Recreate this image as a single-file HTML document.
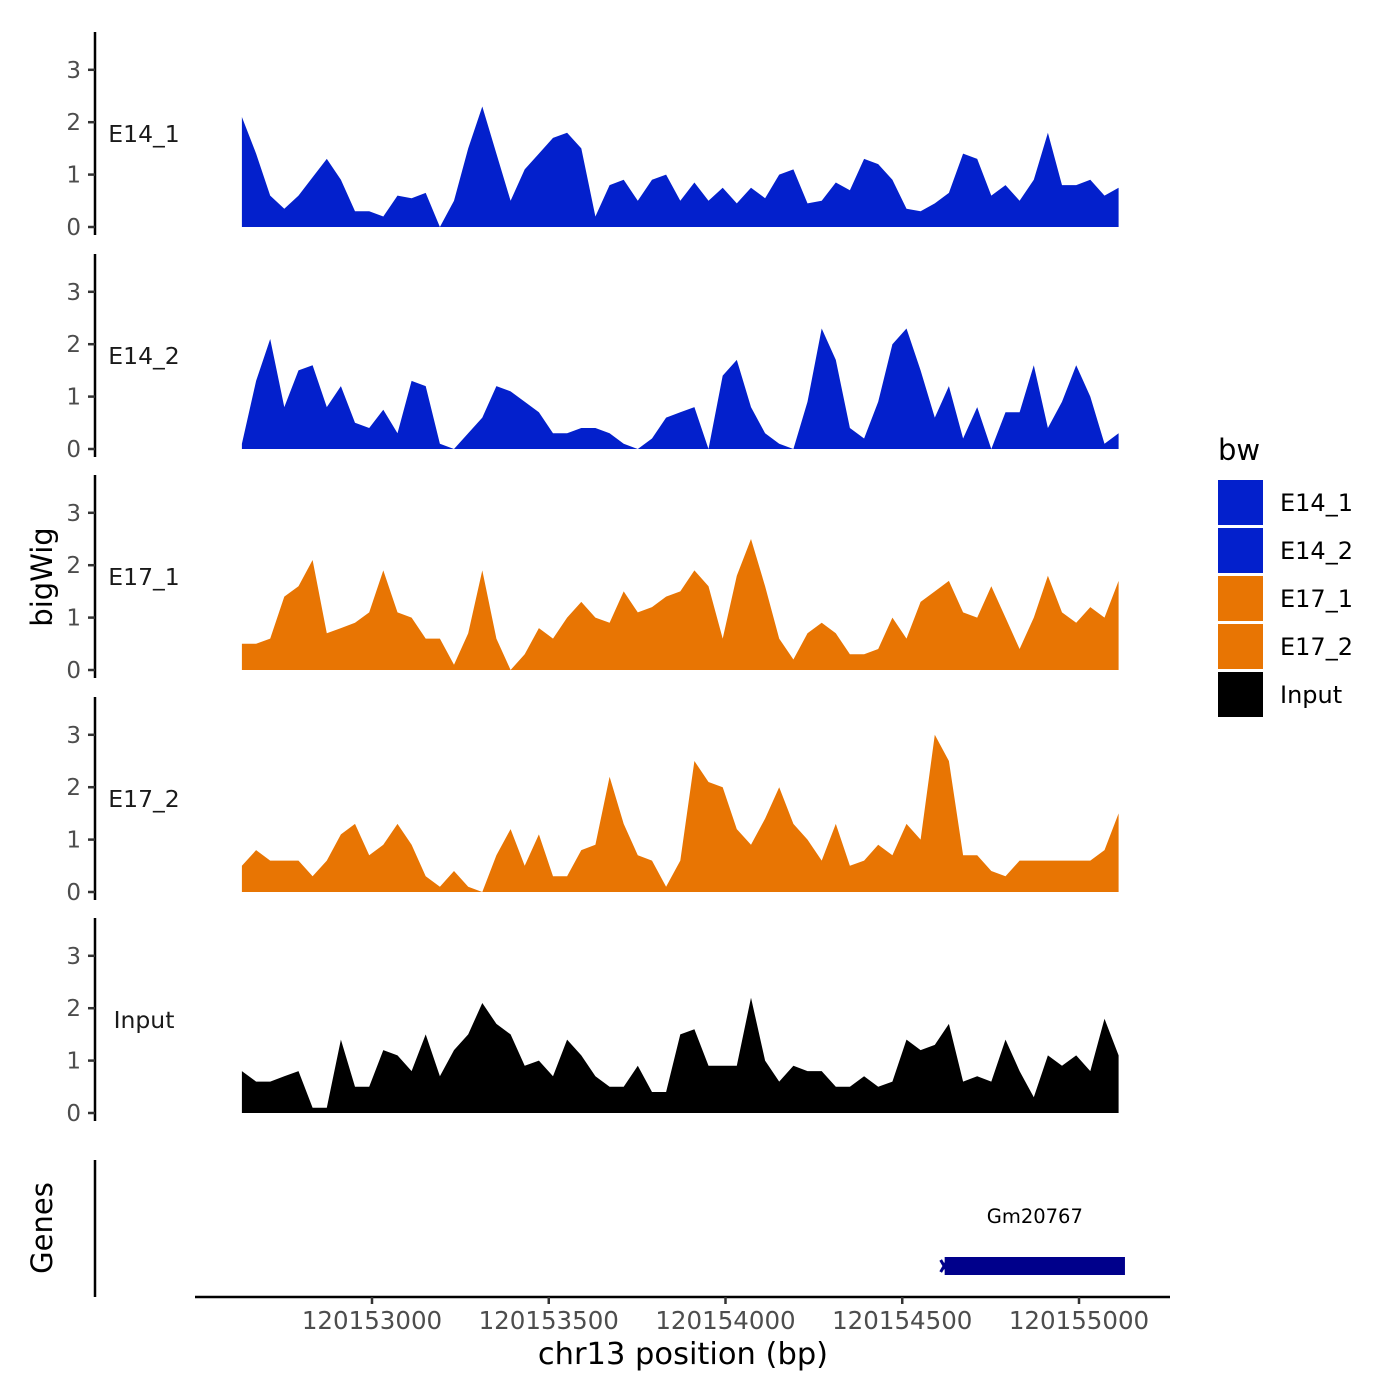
<!DOCTYPE html>
<html><head><meta charset="utf-8"><style>
html,body{margin:0;padding:0;background:#fff;}
svg{display:block;font-family:"DejaVu Sans","Liberation Sans",sans-serif;}
</style></head><body>
<svg id="chart" width="1400" height="1400" viewBox="0 0 1400 1400"></svg>
<script>
const start = 120152632;
const step = 40;
const trackNames = ["E14_1","E14_2","E17_1","E17_2","Input"];
const trackColors = ["#0320cc","#0320cc","#e87503","#e87503","#000000"];
const e14_1 = [2.1,1.4,0.6,0.35,0.6,0.95,1.3,0.9,0.3,0.3,0.2,0.6,0.55,0.65,0.0,0.5,1.5,2.3,1.4,0.5,1.1,1.4,1.7,1.8,1.5,0.2,0.8,0.9,0.5,0.9,1.0,0.5,0.85,0.5,0.75,0.45,0.75,0.55,1.0,1.1,0.45,0.5,0.85,0.7,1.3,1.2,0.9,0.35,0.3,0.45,0.65,1.4,1.3,0.6,0.8,0.5,0.9,1.8,0.8,0.8,0.9,0.6,0.75];
const e14_2 = [0.1,1.3,2.1,0.8,1.5,1.6,0.8,1.2,0.5,0.4,0.75,0.3,1.3,1.2,0.1,0.0,0.3,0.6,1.2,1.1,0.9,0.7,0.3,0.3,0.4,0.4,0.3,0.1,0.0,0.2,0.6,0.7,0.8,0.0,1.4,1.7,0.8,0.3,0.1,0.0,0.9,2.3,1.7,0.4,0.2,0.9,2.0,2.3,1.5,0.6,1.2,0.2,0.8,0.0,0.7,0.7,1.6,0.4,0.9,1.6,1.0,0.1,0.3];
const e17_1 = [0.5,0.5,0.6,1.4,1.6,2.1,0.7,0.8,0.9,1.1,1.9,1.1,1.0,0.6,0.6,0.1,0.7,1.9,0.6,0.0,0.3,0.8,0.6,1.0,1.3,1.0,0.9,1.5,1.1,1.2,1.4,1.5,1.9,1.6,0.6,1.8,2.5,1.6,0.6,0.2,0.7,0.9,0.7,0.3,0.3,0.4,1.0,0.6,1.3,1.5,1.7,1.1,1.0,1.6,1.0,0.4,1.0,1.8,1.1,0.9,1.2,1.0,1.7];
const e17_2 = [0.5,0.8,0.6,0.6,0.6,0.3,0.6,1.1,1.3,0.7,0.9,1.3,0.9,0.3,0.1,0.4,0.1,0.0,0.7,1.2,0.5,1.1,0.3,0.3,0.8,0.9,2.2,1.3,0.7,0.6,0.1,0.6,2.5,2.1,2.0,1.2,0.9,1.4,2.0,1.3,1.0,0.6,1.3,0.5,0.6,0.9,0.7,1.3,1.0,3.0,2.5,0.7,0.7,0.4,0.3,0.6,0.6,0.6,0.6,0.6,0.6,0.8,1.5];
const input = [0.8,0.6,0.6,0.7,0.8,0.1,0.1,1.4,0.5,0.5,1.2,1.1,0.8,1.5,0.7,1.2,1.5,2.1,1.7,1.5,0.9,1.0,0.7,1.4,1.1,0.7,0.5,0.5,0.9,0.4,0.4,1.5,1.6,0.9,0.9,0.9,2.2,1.0,0.6,0.9,0.8,0.8,0.5,0.5,0.7,0.5,0.6,1.4,1.2,1.3,1.7,0.6,0.7,0.6,1.4,0.8,0.3,1.1,0.9,1.1,0.8,1.8,1.1];
const seriesList = [e14_1,e14_2,e17_1,e17_2,input];
const yTicks = [0,1,2,3];
const xTicks = [120153000,120153500,120154000,120154500,120155000];
const xTickLabels = ["120153000","120153500","120154000","120154500","120155000"];
const geneName = "Gm20767";
const geneStart = 120154620;
const geneEnd = 120155130;

const NS="http://www.w3.org/2000/svg";
const svg=document.getElementById('chart');
function mk(tag,attrs,parent){const e=document.createElementNS(NS,tag);for(const k in attrs)e.setAttribute(k,attrs[k]);(parent||svg).appendChild(e);return e;}
const xS = v => 372 + (v-120153000)*(707/2000);
const panelZero = [227,449,670,892,1113];
const ppu = 52.4;

for(let p=0;p<5;p++){
  const z=panelZero[p];
  const g=mk('g',{});
  
  
  const ax=mk('line',{x1:95,x2:95,y1:z-195,y2:z+8,stroke:'#000','stroke-width':2.5},g);
  
  
  yTicks.forEach(t=>{
    const y=z-t*ppu;
    const tk=mk('line',{x1:88,x2:95,y1:y,y2:y,stroke:'#333','stroke-width':2.5},g);
    
    
    const tl=mk('text',{x:81,y:y+8,'text-anchor':'end','font-size':23,fill:'#4d4d4d'},g);
    tl.textContent=t;
    
    
  });
  const lab=mk('text',{x:144,y:z-85,'text-anchor':'middle','font-size':23.5,fill:'#1a1a1a'},g);
  lab.textContent=trackNames[p];
  
  
  const vals=seriesList[p];
  let d='M'+xS(start).toFixed(1)+','+z;
  vals.forEach((v,i)=>{d+=' L'+xS(start+i*step).toFixed(1)+','+(z-v*ppu).toFixed(1);});
  d+=' L'+xS(start+(vals.length-1)*step).toFixed(1)+','+z+' Z';
  const area=mk('path',{d:d,fill:trackColors[p]},g);
  
  
}
const yt=mk('text',{x:0,y:0,'font-size':29,fill:'#000','text-anchor':'middle',transform:'translate(52,577) rotate(-90)'});
yt.textContent='bigWig';


const gt=mk('text',{x:0,y:0,'font-size':29,fill:'#000','text-anchor':'middle',transform:'translate(52,1228) rotate(-90)'});
gt.textContent='Genes';


const ga=mk('line',{x1:95,x2:95,y1:1160,y2:1297,stroke:'#000','stroke-width':2.5});


const gb=mk('rect',{x:xS(geneStart),y:1257,width:xS(geneEnd)-xS(geneStart),height:18,fill:'#00008b'});


const ga1=mk('path',{d:'M'+(xS(geneStart)-4)+',1260 L'+(xS(geneStart)+3)+',1272 M'+(xS(geneStart)-4)+',1272 L'+(xS(geneStart)+3)+',1260',stroke:'#00008b','stroke-width':3,fill:'none'});


const gl=mk('text',{x:(xS(geneStart)+xS(geneEnd))/2,y:1223,'text-anchor':'middle','font-size':19.5,fill:'#000'});
gl.textContent=geneName;


const xa=mk('line',{x1:195,x2:1170,y1:1297,y2:1297,stroke:'#000','stroke-width':2.5});


xTicks.forEach((t,i)=>{
  const x=xS(t);
  const tk=mk('line',{x1:x,x2:x,y1:1297,y2:1304,stroke:'#333','stroke-width':2.5});
  
  
  const tl=mk('text',{x:x,y:1329,'text-anchor':'middle','font-size':24.5,fill:'#4d4d4d'});
  tl.textContent=xTickLabels[i];
  
  
});
const xt=mk('text',{x:683,y:1364,'text-anchor':'middle','font-size':30.5,fill:'#000'});
xt.textContent='chr13 position (bp)';


const lt=mk('text',{x:1218,y:460,'font-size':29,fill:'#000'});
lt.textContent='bw';


trackNames.forEach((n,i)=>{
  const y=480+i*48;
  const r=mk('rect',{x:1218,y:y,width:45,height:45,fill:trackColors[i]});
  
  
  const t=mk('text',{x:1280,y:y+31,'font-size':24,fill:'#000'});
  t.textContent=n;
  
  
});
</script>
</body></html>
